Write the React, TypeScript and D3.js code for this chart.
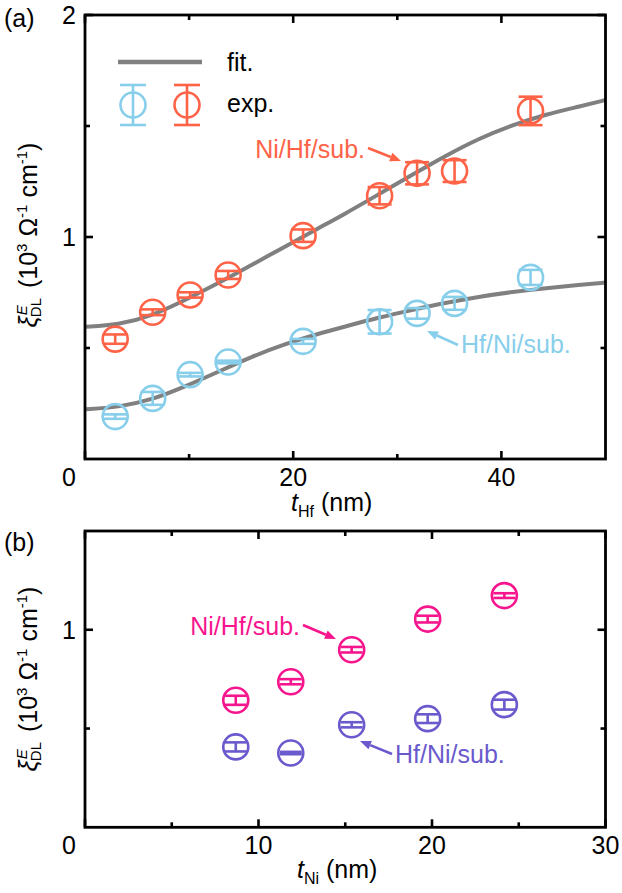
import React from "react";
import * as d3 from "d3";

// ---------- data: panel (a) ----------
const hfThickness = [2.9, 6.5, 10.1, 13.75, 20.95, 28.3, 31.9, 35.5, 42.8];
const niHfXiA = [0.54, 0.661, 0.739, 0.829, 1.006, 1.186, 1.287, 1.297, 1.568];
const niHfErrA = [0.021, 0.013, 0.012, 0.018, 0.028, 0.039, 0.05, 0.049, 0.064];
const hfNiXiA = [0.191, 0.273, 0.38, 0.437, 0.53, 0.618, 0.656, 0.701, 0.818];
const hfNiErrA = [0.01, 0.029, 0.008, 0.006, 0.011, 0.053, 0.024, 0.029, 0.034];

const fitX = [0, 3.2, 6.4, 9.6, 12.8, 16.0, 19.2, 22.4, 25.0, 28.2, 31.4, 34.6, 37.8, 41.1, 44.3, 47.5, 50];
const fitNiHf = [0.596, 0.604, 0.644, 0.716, 0.791, 0.874, 0.956, 1.039, 1.105, 1.192, 1.279, 1.365, 1.443, 1.505, 1.553, 1.588, 1.617];
const fitHfNi = [0.224, 0.233, 0.266, 0.326, 0.393, 0.461, 0.518, 0.564, 0.597, 0.637, 0.671, 0.703, 0.731, 0.753, 0.77, 0.784, 0.795];

// ---------- data: panel (b) ----------
const niThickness = [8.69, 11.86, 15.37, 19.75, 24.17];
const niHfXiB = [0.643, 0.737, 0.899, 1.054, 1.173];
const niHfErrB = [0.023, 0.013, 0.014, 0.017, 0.012];
const hfNiXiB = [0.407, 0.376, 0.519, 0.55, 0.621];
const hfNiErrB = [0.023, 0.006, 0.013, 0.022, 0.025];

const xTicksA = [0, 20, 40];
const xMinorA = [10, 30];
const yTicksA = [1, 2];
const yMinorA = [0.5, 1.5];
const xTicksB = [0, 10, 20, 30];
const xMinorB = [5, 15, 25];
const yTicksB = [1];
const yMinorB = [0.5];

const RED = "#FF6347";
const BLUE = "#87CEEB";
const PINK = "#F7158E";
const PURPLE = "#6A5ACD";
const GRAY = "#808080";
const FONT = "'Liberation Sans', Arial, Helvetica, sans-serif";

const L = 85, R = 605.5;
const xA = d3.scaleLinear().domain([0, 50]).range([L, R]);
const yA = d3.scaleLinear().domain([0, 2]).range([459, 15]);
const xB = d3.scaleLinear().domain([0, 30]).range([L, R]);
const yB = d3.scaleLinear().domain([0, 1.5]).range([827.3, 531]);

function Marker({ cx, cy, e, color, r = 12.5, cap = 12 }) {
  return (
    <g stroke={color} strokeWidth={2.6} fill="none">
      <circle cx={cx} cy={cy} r={r} />
      <line x1={cx} x2={cx} y1={cy - e} y2={cy + e} />
      <line x1={cx - cap} x2={cx + cap} y1={cy - e} y2={cy - e} />
      <line x1={cx - cap} x2={cx + cap} y1={cy + e} y2={cy + e} />
    </g>
  );
}

function Frame({ x, y, xT, xM, yT, yM }) {
  const [x0, x1] = x.range();
  const [y0, y1] = y.range();
  const major = 8, minor = 5;
  const tk = [];
  xT.forEach((v, i) => {
    const px = x(v);
    tk.push(<line key={"xb" + i} x1={px} x2={px} y1={y0} y2={y0 - major} />);
    tk.push(<line key={"xt" + i} x1={px} x2={px} y1={y1} y2={y1 + major} />);
  });
  xM.forEach((v, i) => {
    const px = x(v);
    tk.push(<line key={"xmb" + i} x1={px} x2={px} y1={y0} y2={y0 - minor} />);
    tk.push(<line key={"xmt" + i} x1={px} x2={px} y1={y1} y2={y1 + minor} />);
  });
  yT.forEach((v, i) => {
    const py = y(v);
    tk.push(<line key={"yl" + i} x1={x0} x2={x0 + major} y1={py} y2={py} />);
    tk.push(<line key={"yr" + i} x1={x1} x2={x1 - major} y1={py} y2={py} />);
  });
  yM.forEach((v, i) => {
    const py = y(v);
    tk.push(<line key={"yml" + i} x1={x0} x2={x0 + minor} y1={py} y2={py} />);
    tk.push(<line key={"ymr" + i} x1={x1} x2={x1 - minor} y1={py} y2={py} />);
  });
  return (
    <g>
      <g stroke="#000" strokeWidth={2.6}>{tk}</g>
      <rect x={x0} y={y1} width={x1 - x0} height={y0 - y1} fill="none" stroke="#000" strokeWidth={2.8} />
      {xT.map((v, i) => (
        <text key={"xl" + i} x={v === 0 ? x(v) - 16 : x(v)} y={y0 + 27} textAnchor="middle" fontSize={25}>
          {v}
        </text>
      ))}
      {yT.map((v, i) => (
        <text key={"yl" + i} x={x0 - 9} y={y(v)} dy="0.35em" textAnchor="end" fontSize={25}>
          {v}
        </text>
      ))}
    </g>
  );
}

function YLabel({ cx, cy }) {
  return (
    <text transform={`translate(${cx},${cy}) rotate(-90)`} textAnchor="middle" fontSize={25}>
      <tspan fontStyle="italic">ξ</tspan>
      <tspan fontSize={15} fontStyle="italic" dx={1} dy={-10}>E</tspan>
      <tspan fontSize={15} dx={-12} dy={14}>DL</tspan>
      <tspan dx={10} dy={-4}>(10</tspan>
      <tspan fontSize={15} dy={-10}>3</tspan>
      <tspan dy={10}> Ω</tspan>
      <tspan fontSize={15} dy={-10}>-1</tspan>
      <tspan dy={10}> cm</tspan>
      <tspan fontSize={15} dy={-10}>-1</tspan>
      <tspan dy={10}>)</tspan>
    </text>
  );
}

function Arrow({ x1, y1, x2, y2, color }) {
  const ang = Math.atan2(y2 - y1, x2 - x1);
  const len = 11, w = 4.5;
  const bx = x2 - len * Math.cos(ang), by = y2 - len * Math.sin(ang);
  const px = -Math.sin(ang) * w, py = Math.cos(ang) * w;
  return (
    <g>
      <line x1={x1} y1={y1} x2={bx} y2={by} stroke={color} strokeWidth={2.6} />
      <polygon points={`${x2},${y2} ${bx + px},${by + py} ${bx - px},${by - py}`} fill={color} />
    </g>
  );
}

export default function App() {
  const makePath = (vals: number[]) =>
    d3
      .line<number>()
      .x((_, i) => xA(fitX[i]))
      .y((d) => yA(d))
      .curve(d3.curveBasis)(vals);
  const redPath = makePath(fitNiHf);
  const bluePath = makePath(fitHfNi);

  return (
    <svg
      width={622}
      height={893}
      style={{ position: "absolute", left: 0, top: 0, background: "#fff" }}
      fontFamily={FONT}
    >
      <rect width={622} height={893} fill="#fff" />
      {/* ---------------- panel (a) ---------------- */}
      <text x={4} y={27} fontSize={25}>(a)</text>
      <defs>
        <clipPath id="clipA">
          <rect x={L} y={15} width={R - L} height={444} />
        </clipPath>
      </defs>
      <g clipPath="url(#clipA)" fill="none" stroke={GRAY} strokeWidth={4}>
        <path d={redPath} />
        <path d={bluePath} />
      </g>
      {hfThickness.map((t, i) => (
        <Marker key={"ra" + i} cx={xA(t)} cy={yA(niHfXiA[i])} e={yA(0) - yA(niHfErrA[i])} color={RED} />
      ))}
      {hfThickness.map((t, i) => (
        <Marker key={"ba" + i} cx={xA(t)} cy={yA(hfNiXiA[i])} e={yA(0) - yA(hfNiErrA[i])} color={BLUE} />
      ))}
      <Frame x={xA} y={yA} xT={xTicksA} xM={xMinorA} yT={yTicksA} yM={yMinorA} />
      {/* legend */}
      <line x1={118} x2={202} y1={62} y2={62} stroke={GRAY} strokeWidth={4.5} />
      <text x={227} y={71} fontSize={25}>fit.</text>
      <Marker cx={133} cy={105} e={20} color={BLUE} cap={13} />
      <Marker cx={187} cy={105} e={20} color={RED} cap={13} />
      <text x={227} y={112} fontSize={25}>exp.</text>
      {/* annotations */}
      <text x={365} y={158} fontSize={25} textAnchor="end" fill={RED}>Ni/Hf/sub.</text>
      <Arrow x1={368} y1={148} x2={401} y2={161} color={RED} />
      <text x={461} y={353} fontSize={25} fill={BLUE}>Hf/Ni/sub.</text>
      <Arrow x1={458} y1={345} x2={427} y2={331} color={BLUE} />
      {/* axis labels */}
      <YLabel cx={37} cy={235} />
      <text x={291} y={511} fontSize={25}>
        <tspan fontStyle="italic">t</tspan>
        <tspan fontSize={16} dy={6}>Hf</tspan>
        <tspan dy={-6}> (nm)</tspan>
      </text>

      {/* ---------------- panel (b) ---------------- */}
      <text x={4} y={551} fontSize={25}>(b)</text>
      {niThickness.map((t, i) => (
        <Marker key={"pb" + i} cx={xB(t)} cy={yB(niHfXiB[i])} e={yB(0) - yB(niHfErrB[i])} color={PINK} cap={11} />
      ))}
      {niThickness.map((t, i) => (
        <Marker key={"ub" + i} cx={xB(t)} cy={yB(hfNiXiB[i])} e={yB(0) - yB(hfNiErrB[i])} color={PURPLE} cap={11} />
      ))}
      <Frame x={xB} y={yB} xT={xTicksB} xM={xMinorB} yT={yTicksB} yM={yMinorB} />
      <text x={300} y={635} fontSize={25} textAnchor="end" fill={PINK}>Ni/Hf/sub.</text>
      <Arrow x1={303} y1={625} x2={336} y2={639} color={PINK} />
      <text x={395} y={763} fontSize={25} fill={PURPLE}>Hf/Ni/sub.</text>
      <Arrow x1={392} y1={754} x2={360} y2={741} color={PURPLE} />
      <YLabel cx={37} cy={679} />
      <text x={297} y={878} fontSize={25}>
        <tspan fontStyle="italic">t</tspan>
        <tspan fontSize={16} dy={6}>Ni</tspan>
        <tspan dy={-6}> (nm)</tspan>
      </text>
    </svg>
  );
}
